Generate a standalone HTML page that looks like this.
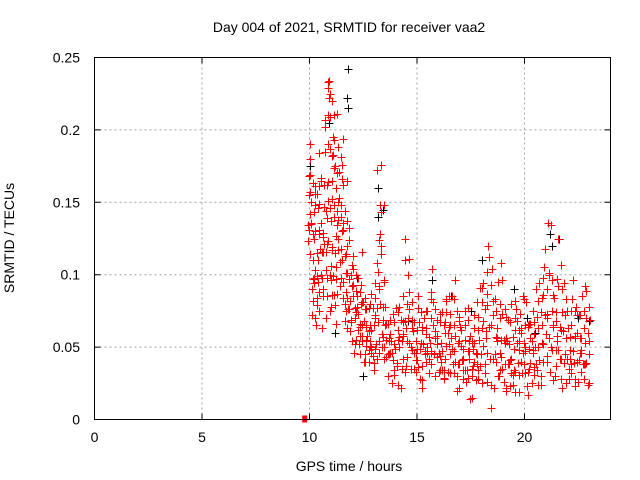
<!DOCTYPE html>
<html><head><meta charset="utf-8"><style>
body{margin:0;background:#fff}
svg{display:block;font-family:"Liberation Sans",sans-serif}
</style></head><body>
<svg id="chart" width="640" height="480" viewBox="0 0 640 480">
<rect x="0" y="0" width="640" height="480" fill="#fff"/>
<g id="grid"></g>
<g id="ticks"></g>
<g id="black"></g>
<g id="red"></g>
<rect x="94.5" y="57.5" width="516" height="362" fill="none" stroke="#000" stroke-width="1"/>
<text x="349" y="32" font-size="14" text-anchor="middle">Day 004 of 2021, SRMTID for receiver vaa2</text>
<text x="349" y="471" font-size="14" text-anchor="middle">GPS time / hours</text>
<text x="14" y="238" font-size="14" text-anchor="middle" transform="rotate(-90 14 238)">SRMTID / TECUs</text>
</svg>
<script>
const xTicks=[0,5,10,15,20];
const yTicks=[0,0.05,0.1,0.15,0.2,0.25];
const yTickLabels=["0","0.05","0.1","0.15","0.2","0.25"];
const redTimes=[10.0,10.1,10.2,10.3,10.4,10.5,10.6,10.7,10.8,10.9,11.0,11.1,11.2,11.3,11.4,11.5,11.6,11.7,11.8,11.9,12.0,12.1,12.2,12.3,12.4,12.5,12.6,12.7,12.8,12.9,13.0,13.1,13.2,13.3,13.4,13.5,13.6,13.7,13.8,13.9,14.0,14.1,14.2,14.3,14.4,14.5,14.6,14.7,14.8,14.9,15.0,15.1,15.2,15.3,15.4,15.5,15.6,15.7,15.8,15.9,16.0,16.1,16.2,16.3,16.4,16.5,16.6,16.7,16.8,16.9,17.0,17.1,17.2,17.3,17.4,17.5,17.6,17.7,17.8,17.9,18.0,18.1,18.2,18.3,18.4,18.5,18.6,18.7,18.8,18.9,19.0,19.1,19.2,19.3,19.4,19.5,19.6,19.7,19.8,19.9,20.0,20.1,20.2,20.3,20.4,20.5,20.6,20.7,20.8,20.9,21.0,21.1,21.2,21.3,21.4,21.5,21.6,21.7,21.8,21.9,22.0,22.1,22.2,22.3,22.4,22.5,22.6,22.7,22.8,22.9,23.0];
const redValues=[
[.19,.185,.17,.165,.155,.15,.145,.14,.135,.13,.12],
[.16,.15,.14,.13,.11,.095,.085,.075],
[.155,.14,.125,.115,.1,.09,.08,.065],
[.16,.15,.145,.13,.12,.105,.095,.082,.06],
[.19,.165,.14,.125,.11,.1,.09,.075],
[.17,.155,.14,.125,.115,.1,.08,.065],
[.16,.15,.135,.12,.11,.095,.085],
[.2,.18,.165,.15,.13,.115,.1,.09,.075],
[.225,.205,.185,.165,.145,.125,.11,.095,.085],
[.235,.23,.22,.205,.19,.17,.155,.14,.12,.1,.08],
[.23,.222,.205,.18,.16,.14,.125,.11,.09,.075],
[.21,.2,.185,.17,.15,.135,.12,.105,.09,.08],
[.19,.175,.165,.15,.14,.125,.11,.1,.085,.07],
[.205,.185,.17,.155,.14,.13,.115,.1,.09],
[.185,.165,.15,.14,.13,.12,.105,.09],
[.2,.18,.16,.145,.13,.115,.1,.08],
[.165,.15,.14,.125,.11,.095,.085,.07],
[.16,.14,.12,.105,.095,.085,.075],
[.13,.115,.1,.09,.08,.07,.06],
[.12,.105,.095,.085,.075,.065],
[.115,.1,.09,.08,.07,.06,.05],
[.105,.095,.085,.075,.065,.055],
[.1,.09,.08,.07,.06,.05],
[.095,.088,.078,.068,.06,.05,.04],
[.11,.09,.08,.07,.06,.05],
[.085,.075,.065,.058,.05,.042],
[.09,.08,.07,.062,.055,.045],
[.08,.07,.062,.055,.048,.04],
[.075,.068,.06,.052,.045],
[.085,.072,.065,.056,.048,.04],
[.08,.07,.06,.052,.045,.038],
[.11,.09,.075,.065,.055,.048],
[.177,.15,.12,.1,.085,.07,.06,.05],
[.176,.148,.13,.11,.09,.075,.062],
[.145,.12,.1,.08,.065,.055,.045],
[.09,.075,.065,.055,.045,.038],
[.07,.06,.052,.045,.035],[.065,.058,.05,.042,.03],[.072,.06,.05,.04,.022],[.068,.055,.047,.038,.025],
[.075,.062,.052,.045,.035],[.07,.06,.05,.04,.03],[.08,.065,.055,.045,.025],[.072,.06,.05,.04,.03],
[.11,.09,.07,.055,.04,.028],[.122,.1,.085,.065,.05,.035],[.105,.085,.07,.058,.045],[.085,.07,.06,.05,.04],
[.075,.065,.055,.045,.035],[.07,.06,.05,.04,.03],[.08,.065,.055,.045,.035],[.075,.062,.052,.042,.032],
[.07,.06,.048,.04,.028],[.072,.06,.05,.04,.03],[.08,.065,.055,.045,.035],[.075,.062,.052,.042,.03],
[.085,.07,.058,.048,.038],[.098,.08,.065,.052,.04],[.085,.07,.058,.045,.035],[.075,.062,.05,.04,.03],
[.07,.058,.048,.04,.03],[.068,.056,.046,.038,.028],[.072,.06,.05,.04,.032],[.078,.065,.055,.045,.035],
[.085,.07,.058,.046,.036],[.09,.075,.06,.05,.04],[.085,.07,.058,.045,.03],[.08,.065,.052,.04,.028],
[.09,.072,.058,.045,.032],[.075,.062,.05,.038,.025],[.07,.058,.045,.035,.022],[.065,.055,.045,.035,.025],
[.07,.058,.048,.038,.028],[.075,.06,.05,.04,.03],[.065,.052,.042,.032,.02],[.06,.05,.04,.03,.018],
[.068,.055,.045,.035,.025],[.072,.058,.048,.036,.025],[.078,.062,.05,.04,.03],[.085,.068,.055,.042,.03],
[.095,.075,.06,.045,.03],[.1,.08,.062,.048,.032],[.105,.085,.065,.05,.035],[.115,.09,.07,.05,.02],
[.11,.088,.068,.048,.012],[.1,.08,.06,.045,.03],[.085,.068,.055,.04,.025],[.08,.065,.05,.038,.025],
[.095,.075,.058,.042,.028],[.105,.08,.06,.045,.03],[.09,.07,.055,.04,.028],[.08,.065,.05,.038,.025],
[.075,.06,.048,.035,.022],[.07,.058,.045,.032,.02],[.075,.06,.048,.036,.025],[.08,.065,.052,.04,.028],
[.072,.06,.048,.036,.025],[.07,.058,.046,.034,.022],[.078,.062,.05,.038,.026],[.085,.068,.055,.042,.03],
[.08,.065,.052,.04,.028],[.075,.062,.05,.038,.025],[.07,.058,.046,.035,.022],[.072,.06,.048,.036,.025],
[.078,.065,.052,.04,.028],[.085,.07,.056,.042,.03],[.08,.066,.053,.04,.028],[.09,.072,.058,.044,.03],
[.1,.08,.063,.048,.033],[.11,.088,.068,.05,.035],[.118,.095,.072,.055,.038],[.133,.1,.078,.058,.04],
[.128,.098,.075,.055,.035],[.1,.08,.062,.048,.032],[.09,.072,.058,.045,.03],[.1,.08,.062,.048,.034],
[.12,.095,.07,.052,.036],[.105,.085,.065,.048,.032],[.09,.072,.056,.042,.028],[.085,.068,.054,.04,.028],
[.08,.065,.052,.04,.03],[.075,.062,.05,.038,.026],[.08,.065,.052,.04,.028],[.09,.072,.058,.044,.03],
[.082,.066,.053,.04,.028],[.078,.064,.05,.038,.026],[.075,.062,.05,.04,.03],[.08,.066,.054,.042,.032],
[.09,.07,.056,.044,.032],[.085,.068,.055,.042,.03],[.08,.065,.052,.04,.028]
];
const blackTimes=[10.0,10.0,11.8,11.75,11.8,13.2,13.2,13.4,15.7,16.6,18.0,21.2,21.3,21.6,10.9,12.5,14.6,17.5,19.5,20.5,22.5,23.0,11.2,12.2,20.1];
const blackValues=[0.19,0.175,0.242,0.222,0.215,0.16,0.14,0.145,0.096,0.085,0.11,0.128,0.12,0.125,0.205,0.03,0.068,0.075,0.09,0.06,0.07,0.068,0.06,0.098,0.07];
const zeroPointTime=9.8;

const X0=94.5,X1=610.5,Y0=419.5,Y1=57.5,XMAX=24,YMAX=0.25;
const xs=t=>X0+(X1-X0)*t/XMAX;
const ys=v=>Y0-(Y0-Y1)*v/YMAX;
const NS="http://www.w3.org/2000/svg";
function mk(tag,attrs,parent){const e=document.createElementNS(NS,tag);for(const k in attrs)e.setAttribute(k,attrs[k]);parent.appendChild(e);return e;}
const grid=document.getElementById('grid'),ticks=document.getElementById('ticks');
xTicks.forEach((t,i)=>{
  const x=xs(t);
  if(t>0){const g=mk('line',{x1:x,x2:x,y1:Y1,y2:Y0,stroke:'#a0a0a0','stroke-dasharray':'2,3'},grid);
  
  }
  const tk=mk('path',{d:`M${x} ${Y0}v-6M${x} ${Y1}v6`,stroke:'#000'},ticks);
  
  
  const lb=mk('text',{x:x,y:442,'font-size':14,'text-anchor':'middle'},ticks);lb.textContent=String(t);
  
  
});
yTicks.forEach((v,i)=>{
  const y=ys(v);
  if(v>0&&v<YMAX){const g=mk('line',{x1:X0,x2:X1,y1:y,y2:y,stroke:'#a0a0a0','stroke-dasharray':'2,3'},grid);
  
  }
  const tk=mk('path',{d:`M${X0} ${y}h6M${X1} ${y}h-6`,stroke:'#000'},ticks);
  
  
  const lb=mk('text',{x:80,y:y+5,'font-size':14,'text-anchor':'end'},ticks);lb.textContent=yTickLabels[i];
  
  
});
function plus(g,x,y,c){const p=mk('path',{d:`M${x-4} ${y}h8M${x} ${y-4}v8`,stroke:c,'stroke-width':1},g);return p;}
const bg=document.getElementById('black'),rg=document.getElementById('red');
blackTimes.forEach((t,i)=>{
  const p=plus(bg,Math.round(xs(t))+0.5,Math.round(ys(blackValues[i]))+0.5,'#000');
  
  
});
const jit=[0,0.05,-0.04,0.03,-0.06,0.045,-0.02,0.06,-0.05,0.01,0.035,-0.03,0.02];
const vjit=[0,0.004,-0.003,0.006,-0.005,0.002,-0.006,0.003,-0.002,0.005,-0.004];
redTimes.forEach((t,i)=>{
  redValues[i].forEach((v,j)=>{
    const p=plus(rg,Math.round(xs(t+jit[(i*5+j*3)%jit.length]))+0.5,Math.round(ys(v+vjit[(i*7+j*4)%vjit.length]))+0.5,'#f00');
    
    
  });
});
const z=mk('rect',{x:xs(zeroPointTime)-3,y:ys(0)-4,width:5,height:7,fill:'#f00'},rg);


</script>
</body></html>
